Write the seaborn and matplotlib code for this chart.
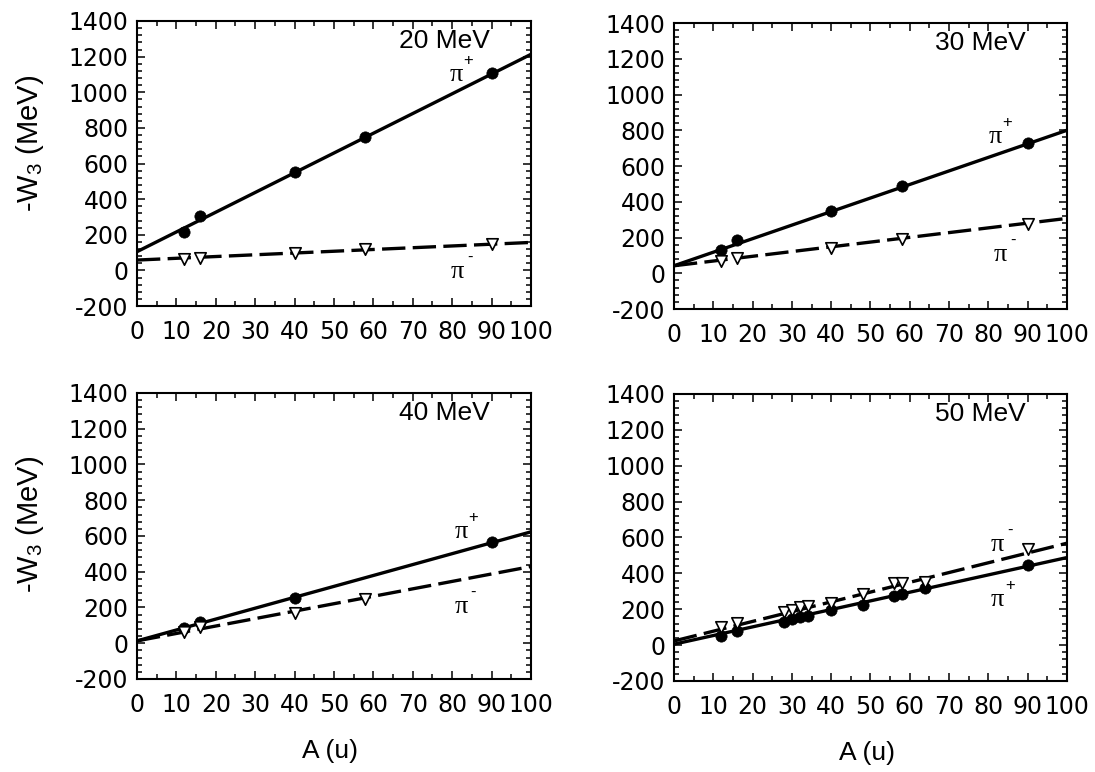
import numpy as np
import matplotlib
matplotlib.use("Agg")
import matplotlib.pyplot as plt
from matplotlib.ticker import MultipleLocator
import seaborn as sns

# Pion kinetic energies of the four panels
energies = ["20 MeV", "30 MeV", "40 MeV", "50 MeV"]

# -W3 (MeV) versus target mass number A for pi+ (filled) and pi- (open)
a_pip_20 = [12, 16, 40, 58, 90]
w_pip_20 = [213, 305, 550, 750, 1110]
a_pim_20 = [12, 16, 40, 58, 90]
w_pim_20 = [62, 68, 96, 118, 146]

a_pip_30 = [12, 16, 40, 58, 90]
w_pip_30 = [133, 186, 349, 489, 729]
a_pim_30 = [12, 16, 40, 58, 90]
w_pim_30 = [70, 83, 139, 189, 275]

a_pip_40 = [12, 16, 40, 90]
w_pip_40 = [84, 117, 252, 569]
a_pim_40 = [12, 16, 40, 58]
w_pim_40 = [62, 93, 168, 246]

a_50 = [12, 16, 28, 30, 32, 34, 40, 48, 56, 58, 64, 90]
w_pip_50 = [52, 79, 131, 145, 155, 165, 196, 224, 274, 285, 317, 447]
w_pim_50 = [103, 122, 186, 195, 214, 218, 236, 283, 345, 348, 354, 534]

# Linear fits -W3 = intercept + slope * A
fit_pip = [(105, 11.08), (42, 7.58), (13, 6.10), (5, 4.83)]
fit_pim = [(58, 0.99), (42, 2.65), (13, 4.16), (23, 5.45)]

x_ticks = list(range(0, 101, 10))
y_ticks = list(range(-200, 1401, 200))

panels = [
    (a_pip_20, w_pip_20, a_pim_20, w_pim_20),
    (a_pip_30, w_pip_30, a_pim_30, w_pim_30),
    (a_pip_40, w_pip_40, a_pim_40, w_pim_40),
    (a_50, w_pip_50, a_50, w_pim_50),
]

# positions of the pi+/pi- tags in data coordinates
tag_pip = [(81.0, 1097), (81.7, 762), (82.2, 622), (82.4, 252)]
tag_pim = [(81.4, -9), (83.0, 102), (82.2, 203), (82.4, 558)]

rects = [
    [0.1251, 0.6036, 0.3598, 0.3692],
    [0.6155, 0.5997, 0.3589, 0.3705],
    [0.1251, 0.1205, 0.3598, 0.3705],
    [0.6155, 0.1179, 0.3589, 0.3718],
]

sns.set_theme(style="ticks")
plt.rcParams["font.family"] = ["Liberation Sans", "DejaVu Sans"]
plt.rcParams["axes.unicode_minus"] = False
plt.rcParams["mathtext.fontset"] = "custom"
plt.rcParams["mathtext.rm"] = "Liberation Sans"
plt.rcParams["mathtext.it"] = "Liberation Sans:italic"

fig = plt.figure(figsize=(10.95, 7.72), dpi=100)
grid = np.array([0.0, 100.0])

for i, (ap, wp, am, wm) in enumerate(panels):
    ax = fig.add_axes(rects[i])
    ax.set_xlim(0, 100)
    ax.set_ylim(-200, 1400)

    b, m = fit_pip[i]
    sns.lineplot(x=grid, y=b + m * grid, ax=ax, color="black", linewidth=2.4)
    b, m = fit_pim[i]
    sns.lineplot(x=grid, y=b + m * grid, ax=ax, color="black", linewidth=2.4,
                 linestyle=(0, (7, 2.2)))

    sns.scatterplot(x=ap, y=wp, ax=ax, marker="o", s=66, color="black",
                    edgecolor="black", linewidth=0.5, zorder=3)
    sns.scatterplot(x=am, y=wm, ax=ax, marker="v", s=68, color="white",
                    edgecolor="black", linewidth=1.2, zorder=3)

    ax.set_xticks(x_ticks)
    ax.set_xticklabels([str(t) for t in x_ticks], fontfamily="DejaVu Sans",
                       fontsize=17)
    ax.set_yticks(y_ticks)
    ax.set_yticklabels([str(t) for t in y_ticks], fontfamily="DejaVu Sans",
                       fontsize=17)
    ax.xaxis.set_minor_locator(MultipleLocator(5))
    ax.yaxis.set_minor_locator(MultipleLocator(40))
    ax.tick_params(which="both", direction="in", top=True, right=True,
                   width=1.1, colors="black")
    ax.tick_params(which="major", length=6)
    ax.tick_params(which="minor", length=3.5)
    ax.tick_params(axis="x", which="major", pad=10)
    ax.tick_params(axis="y", which="major", pad=6)
    for sp in ax.spines.values():
        sp.set_linewidth(1.5)
        sp.set_color("black")

    ax.text(0.895, 0.93, energies[i], transform=ax.transAxes, ha="right",
            va="center", fontsize=19, color="black")

    for (tx, ty), sign in ((tag_pip[i], "+"), (tag_pim[i], "-")):
        ax.text(tx, ty, "π", ha="center", va="center", fontsize=19,
                fontfamily="Liberation Serif", color="black")
        ax.annotate(sign, (tx, ty), xytext=(9, 10.5), textcoords="offset points",
                    ha="center", va="center", fontsize=12,
                    fontfamily="Liberation Sans", color="black")

    if i in (0, 2):
        ax.set_ylabel("-W$_3$ (MeV)", fontsize=21, color="black")
        ax.yaxis.set_label_coords(-0.232, 0.57 if i == 0 else 0.54)
    else:
        ax.set_ylabel("")
    if i in (2, 3):
        ax.set_xlabel("A (u)", fontsize=19, color="black")
        ax.xaxis.set_label_coords(0.49, -0.21)
    else:
        ax.set_xlabel("")

fig.savefig("out.png", dpi=100, facecolor="white")
